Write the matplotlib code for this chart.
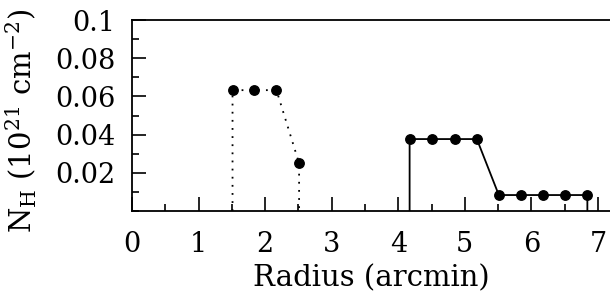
import numpy as np
import matplotlib
matplotlib.use("Agg")
import matplotlib.pyplot as plt
from matplotlib.ticker import MultipleLocator

plt.rcParams['font.family'] = ['DejaVu Serif']
plt.rcParams['mathtext.fontset'] = 'dejavuserif'

# inner region (dotted)
r_in = [1.51, 1.84, 2.17, 2.51]
nh_in = [0.0633, 0.0633, 0.0633, 0.0250]

# outer region (solid)
r_out = [4.17, 4.51, 4.85, 5.18, 5.51, 5.85, 6.18, 6.51, 6.84]
nh_out = [0.0377, 0.0377, 0.0377, 0.0377, 0.0084, 0.0084, 0.0084, 0.0084, 0.0084]

fig = plt.figure(figsize=(6.1, 2.99), dpi=100)
ax = fig.add_axes([0.2164, 0.294, 0.7836, 0.639])

# drop lines down to the axis at both ends
x1 = [r_in[0]] + r_in + [r_in[-1]]
y1 = [0] + nh_in + [0]
ax.plot(x1, y1, ls=(0, (1, 3.5)), color='k', lw=1.3)
ax.plot(r_in, nh_in, 'o', color='k', ms=6.8)

x2 = [r_out[0]] + r_out + [r_out[-1]]
y2 = [0] + nh_out + [0]
ax.plot(x2, y2, '-', color='k', lw=1.3)
ax.plot(r_out, nh_out, 'o', color='k', ms=6.8)

ax.set_xlim(0, 7.18)
ax.set_ylim(0, 0.1)
ax.xaxis.set_major_locator(MultipleLocator(1))
ax.xaxis.set_minor_locator(MultipleLocator(0.5))
ax.set_yticks([0.02, 0.04, 0.06, 0.08, 0.1])
ax.set_yticklabels(['0.02', '0.04', '0.06', '0.08', '0.1'])
ax.yaxis.set_minor_locator(MultipleLocator(0.01))
ax.tick_params(which='major', direction='in', length=10, width=1.2, labelsize=19.5)
ax.tick_params(axis='x', which='major', pad=14)
ax.tick_params(axis='y', which='major', pad=12)
ax.tick_params(which='minor', direction='in', length=5, width=1.2)
ax.spines['right'].set_visible(False)
for s in ['left', 'bottom', 'top']:
    ax.spines[s].set_linewidth(1.3)

ax.set_xlabel('Radius (arcmin)', fontsize=21)
ax.set_ylabel(r'N$_{\rm H}$ (10$^{21}$ cm$^{-2}$)', fontsize=21)
ax.xaxis.set_label_coords(0.5, -0.28)
ax.yaxis.set_label_coords(-0.195, 0.47)

fig.savefig('out.png', dpi=100)
